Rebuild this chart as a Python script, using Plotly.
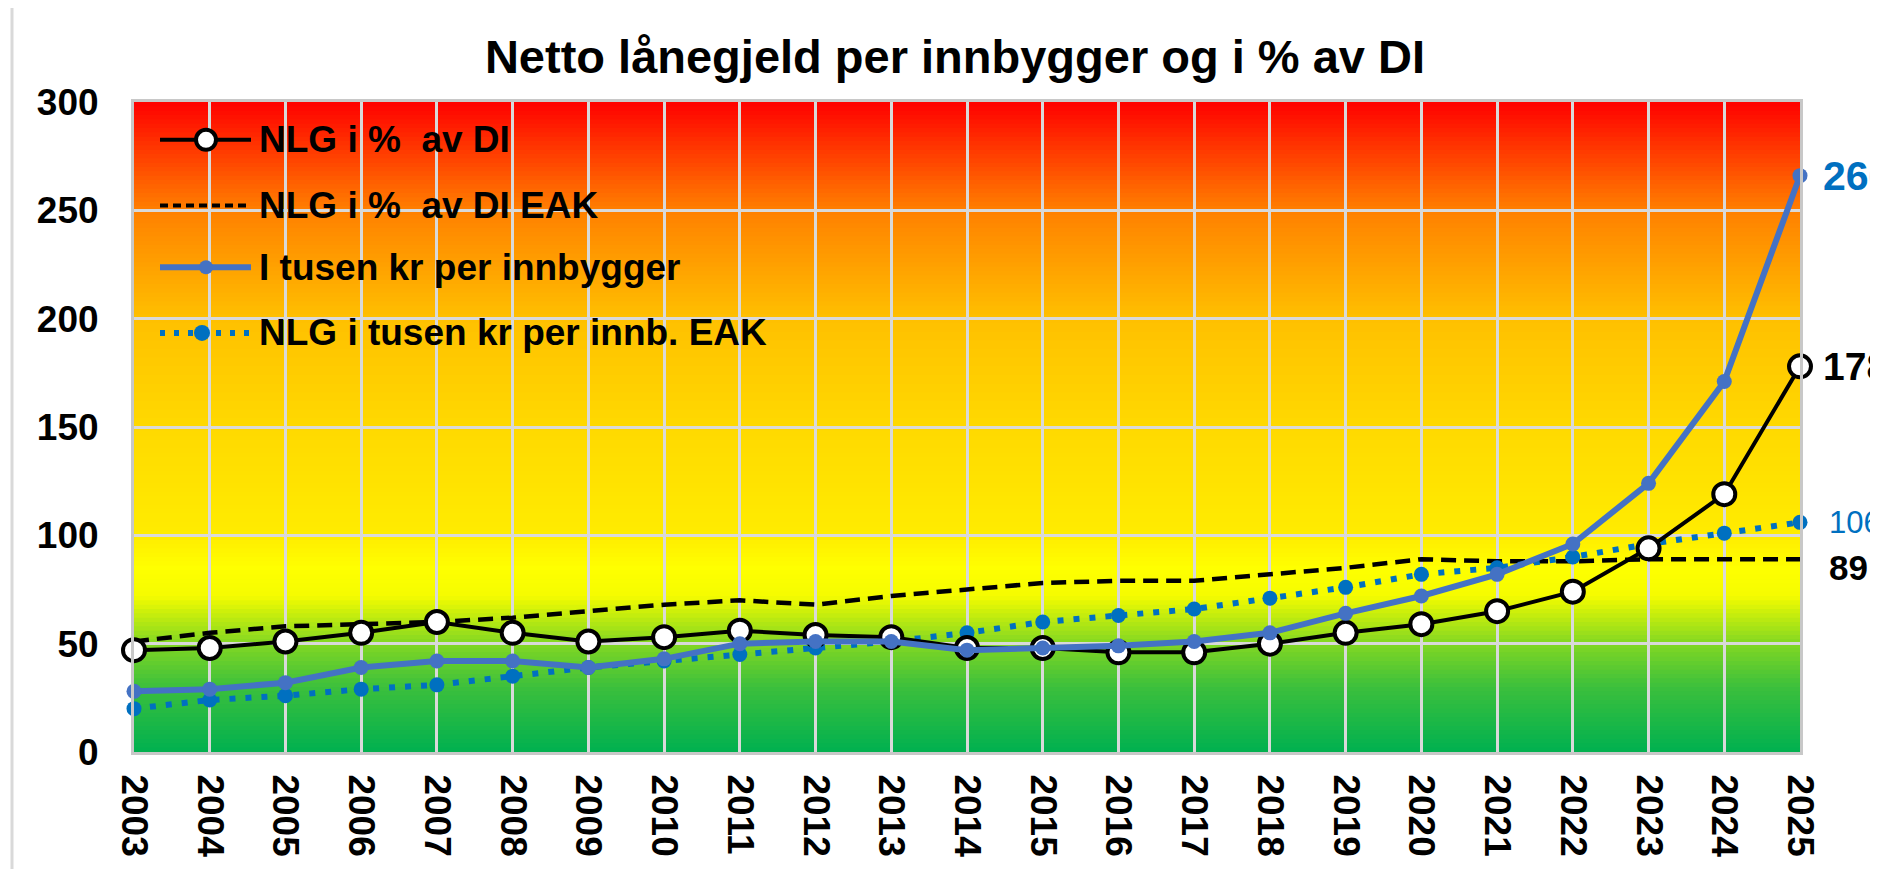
import plotly.graph_objects as go

# ---------------- data ----------------
years = list(range(2003, 2026))
nlg_pct_di = [47, 48, 51, 55, 60, 55, 51, 53, 56, 54, 53, 48, 48, 46, 46, 50, 55, 59, 65, 74, 94, 119, 178]
nlg_pct_di_eak = [51, 55, 58, 59, 60, 62, 65, 68, 70, 68, 72, 75, 78, 79, 79, 82, 85, 89, 88, 88, 89, 89, 89]
tusen_per_innb = [28, 29, 32, 39, 42, 42, 39, 43, 50, 51, 51, 47, 48, 49, 51, 55, 64, 72, 82, 96, 124, 171, 266]
tusen_per_innb_eak = [20, 24, 26, 29, 31, 35, 39, 42, 45, 48, 51, 55, 60, 63, 66, 71, 76, 82, 85, 90, 96, 101, 106]
y_ticks = [0, 50, 100, 150, 200, 250, 300]
series_names = ["NLG i %  av DI", "NLG i %  av DI EAK", "I tusen kr per innbygger", "NLG i tusen kr per innb. EAK"]
title_text = "Netto lånegjeld per innbygger og i % av DI"

# ---------------- layout geometry (reference pixel space) ----------------
OFF = 8                      # page body margin
W_REF, H_REF = 1878, 869
L, T = 134, 102              # plot left / top in reference pixels
PR, PB = 1800, 755           # plot right / bottom in reference pixels
PW, PH = PR - L, PB - T
W, H = W_REF - OFF, H_REF - OFF
FONT = "Liberation Sans, Arial, sans-serif"

def px_x(px):
    return (px - L) / PW

def px_y(py):
    return (PB - py) / PH

BLACK = "#000000"
BLUE1 = "#4472C4"
BLUE2 = "#0070C0"

fig = go.Figure()

fig.add_trace(go.Scatter(
    x=years, y=nlg_pct_di_eak, name=series_names[1], mode="lines",
    line=dict(color=BLACK, width=4.5, dash="15px,8px"), cliponaxis=False, showlegend=False))
fig.add_trace(go.Scatter(
    x=years, y=tusen_per_innb_eak, name=series_names[3], mode="lines+markers",
    line=dict(color=BLUE2, width=6, dash="6px,10px"),
    marker=dict(size=15, color=BLUE2), cliponaxis=False, showlegend=False))
fig.add_trace(go.Scatter(
    x=years, y=nlg_pct_di, name=series_names[0], mode="lines+markers",
    line=dict(color=BLACK, width=4),
    marker=dict(size=22, color="white", line=dict(color=BLACK, width=4)),
    cliponaxis=False, showlegend=False))
fig.add_trace(go.Scatter(
    x=years, y=tusen_per_innb, name=series_names[2], mode="lines+markers",
    line=dict(color=BLUE1, width=6),
    marker=dict(size=15, color=BLUE1), cliponaxis=False, showlegend=False))

# ---------------- background gradient (strips) ----------------
stops = [
    (0, (0, 176, 80)), (30, (60, 192, 60)), (50, (130, 215, 35)), (62, (190, 235, 15)),
    (72, (245, 252, 0)), (85, (255, 255, 0)), (100, (255, 236, 0)), (150, (255, 217, 0)),
    (200, (255, 192, 0)), (250, (255, 128, 0)), (300, (255, 0, 0)),
]

def color_at(v):
    for (v0, c0), (v1, c1) in zip(stops[:-1], stops[1:]):
        if v0 <= v <= v1:
            t = (v - v0) / (v1 - v0)
            return "rgb(%d,%d,%d)" % tuple(round(a + (b - a) * t) for a, b in zip(c0, c1))
    return "rgb(%d,%d,%d)" % stops[-1][1]

shapes = []
step = 2.0
n = int(300 / step)
for i in range(n):
    y0 = i * step
    y1 = y0 + step + 0.3
    shapes.append(dict(type="rect", xref="paper", yref="y", x0=0, x1=1, y0=y0, y1=min(y1, 300),
                       fillcolor=color_at(y0 + step / 2), line=dict(width=0), layer="below"))

# outer chart frame
shapes.append(dict(type="rect", xref="paper", yref="paper",
                   x0=px_x(12), x1=px_x(W_REF + 20), y0=px_y(H_REF + 20), y1=px_y(4),
                   line=dict(color="#D9D9D9", width=3), fillcolor="rgba(0,0,0,0)", layer="below"))

# ---------------- custom legend ----------------
rows = [140, 206, 268, 334]
leg_styles = [
    dict(color=BLACK, width=4, dash="solid", marker="open"),
    dict(color=BLACK, width=4, dash="8px,5px", marker=None),
    dict(color=BLUE1, width=6, dash="solid", marker="blue1"),
    dict(color=BLUE2, width=6, dash="5px,9px", marker="blue2"),
]
annotations = []
for name, yc, st in zip(series_names, rows, leg_styles):
    shapes.append(dict(type="line", xref="paper", yref="paper",
                       x0=px_x(160), x1=px_x(251), y0=px_y(yc), y1=px_y(yc),
                       line=dict(color=st["color"], width=st["width"], dash=st["dash"])))
    if st["marker"] == "open":
        shapes.append(dict(type="circle", xref="paper", yref="paper", xsizemode="pixel", ysizemode="pixel",
                           xanchor=px_x(206), yanchor=px_y(yc), x0=-10, x1=10, y0=-10, y1=10,
                           fillcolor="white", line=dict(color=BLACK, width=4)))
    elif st["marker"] == "blue1":
        shapes.append(dict(type="circle", xref="paper", yref="paper", xsizemode="pixel", ysizemode="pixel",
                           xanchor=px_x(206), yanchor=px_y(yc), x0=-7, x1=7, y0=-7, y1=7,
                           fillcolor=BLUE1, line=dict(width=0)))
    elif st["marker"] == "blue2":
        shapes.append(dict(type="circle", xref="paper", yref="paper", xsizemode="pixel", ysizemode="pixel",
                           xanchor=px_x(202), yanchor=px_y(yc), x0=-8, x1=8, y0=-8, y1=8,
                           fillcolor=BLUE2, line=dict(width=0)))
    annotations.append(dict(xref="paper", yref="paper", x=px_x(257), y=px_y(yc), xanchor="left",
                            yanchor="middle", showarrow=False, text="<b>%s</b>" % name,
                            font=dict(family=FONT, size=37, color=BLACK)))

# ---------------- end-of-line data labels ----------------
end_labels = [
    (tusen_per_innb[-1], BLUE2, True, 41, 0, 21),
    (nlg_pct_di[-1], BLACK, True, 39, 0, 21),
    (tusen_per_innb_eak[-1], BLUE2, False, 31, 0, 27),
    (nlg_pct_di_eak[-1], BLACK, True, 35, -8, 27),
]
for val, col, bold, size, ysh, xsh in end_labels:
    txt = str(val)
    annotations.append(dict(x=years[-1], y=val, xref="x", yref="y", xanchor="left", yanchor="middle",
                            xshift=xsh, yshift=ysh, showarrow=False,
                            text=("<b>%s</b>" % txt) if bold else txt,
                            font=dict(family=FONT, size=size, color=col)))

fig.update_layout(
    width=W, height=H,
    margin=dict(l=L - OFF, r=W - (L - OFF) - PW, t=T - OFF, b=H - (T - OFF) - PH),
    paper_bgcolor="white", plot_bgcolor="rgba(0,0,0,0)",
    title=dict(text="<b>%s</b>" % title_text, x=(955 - OFF) / W, xanchor="center",
               y=1 - (57 - OFF) / H, yanchor="middle", font=dict(family=FONT, size=47, color=BLACK)),
    shapes=shapes, annotations=annotations, showlegend=False,
    font=dict(family=FONT, color=BLACK),
)
fig.update_xaxes(
    range=[years[0], years[-1]], tickmode="array", tickvals=years,
    ticktext=["<b>%d</b>" % y for y in years], tickangle=90,
    tickfont=dict(family=FONT, size=37, color=BLACK),
    showgrid=True, gridcolor="#D9D9D9", gridwidth=3,
    showline=True, linecolor="#C8C8C8", linewidth=3, mirror=True,
    ticks="", ticklabelstandoff=12, zeroline=False,
)
fig.update_yaxes(
    range=[0, 300], tickmode="array", tickvals=y_ticks,
    ticktext=["<b>%d</b>" % v for v in y_ticks],
    tickfont=dict(family=FONT, size=37, color=BLACK),
    showgrid=True, gridcolor="#D9D9D9", gridwidth=3,
    showline=True, linecolor="#C8C8C8", linewidth=3, mirror=True,
    ticks="", ticklabelstandoff=25, zeroline=False,
)

fig.write_html("out.html")
